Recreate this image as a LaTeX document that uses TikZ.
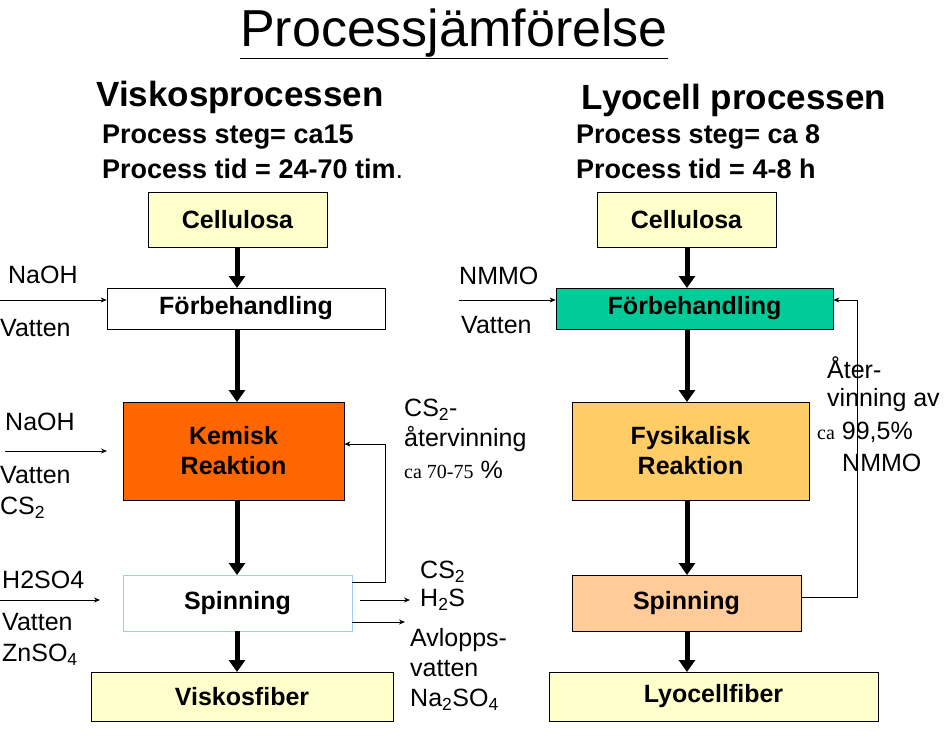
\documentclass[tikz,border=0pt]{standalone}
\usepackage{fontspec}
\setmainfont{Liberation Sans}
\newfontfamily\serifx{Liberation Serif}
\usetikzlibrary{arrows.meta}
\definecolor{ly}{HTML}{FFFFCC}
\definecolor{org}{HTML}{FF6600}
\definecolor{teal2}{HTML}{00CC99}
\definecolor{fys}{HTML}{FFCC66}
\definecolor{spn}{HTML}{FFCC99}
\definecolor{lb}{HTML}{99CCFF}
\begin{document}
\begin{tikzpicture}[x=1pt,y=-1pt,
 box/.style={draw=black,line width=0.8pt,font=\fontsize{25}{30}\selectfont\bfseries,align=center,inner sep=0pt},
 big/.style={line width=5pt,-{Triangle[length=12pt,width=16pt]}},
 thin/.style={line width=0.7pt,-{Stealth[length=6pt,width=5pt]}},
 lab/.style={font=\fontsize{25}{31}\selectfont,align=left,inner sep=0pt,anchor=west},
 hd/.style={font=\fontsize{35}{38}\selectfont\bfseries,inner sep=0pt},
 sub/.style={font=\fontsize{27}{32}\selectfont\bfseries,align=left,inner sep=0pt,anchor=west}]
\useasboundingbox[fill=white] (0,0) rectangle (950,737);
\node[font=\fontsize{52}{56}\selectfont,inner sep=0pt] (t) at (454,34) {\underline{Processjämförelse}};
\node[hd] (h1) at (240,97) {Viskosprocessen};
\node[hd] (h2) at (734,100) {Lyocell processen};
\node[sub] (s1) at (102,137) {Process steg= ca15};
\node[sub] (s1b) at (102,169) {Process tid = 24-70 tim\textmd{.}};
\node[sub] (s2) at (576,137) {Process steg= ca 8};
\node[sub] (s2b) at (576,169) {Process tid = 4-8 h};
% left boxes
\node[box,fill=ly,minimum width=179,minimum height=55] (c1) at (237.5,219.5) {Cellulosa};
\node[box,fill=white,minimum width=278,minimum height=41] (f1) at (246,308.5) {Förbehandling};
\node[box,fill=org,minimum width=221,minimum height=98] (k1) at (233.5,451) {Kemisk\\Reaktion};
\node[box,draw=lb,fill=white,minimum width=229,minimum height=56] (sp1) at (237.5,603) {Spinning};
\node[box,fill=ly,minimum width=302,minimum height=49] (v1) at (242,696.5) {Viskosfiber};
% right boxes
\node[box,fill=ly,minimum width=179,minimum height=55] (c2) at (686.5,219.5) {Cellulosa};
\node[box,fill=teal2,minimum width=277,minimum height=41] (f2) at (694.5,308.5) {Förbehandling};
\node[box,fill=fys,minimum width=237,minimum height=98] (k2) at (690.5,451) {Fysikalisk\\Reaktion};
\node[box,fill=spn,minimum width=229,minimum height=56] (sp2) at (686.5,603) {Spinning};
\node[box,fill=ly,minimum width=329,minimum height=49] (v2) at (713.5,696.5) {Lyocellfiber};
% thick arrows
\draw[big] (237,247) -- (237,288);
\draw[big] (237,329) -- (237,402);
\draw[big] (237,500) -- (237,575);
\draw[big] (237,631) -- (237,672);
\draw[big] (687,247) -- (687,288);
\draw[big] (687,329) -- (687,402);
\draw[big] (687,500) -- (687,575);
\draw[big] (687,631) -- (687,672);
% left inputs
\node[lab] (n1) at (8,275) {NaOH};
\node[lab] (w1) at (0,328) {Vatten};
\coordinate (a1) at (0,300);
\draw[thin] (a1) -- (f1.west |- a1);
\node[lab] (n2) at (5,422) {NaOH};
\node[lab] (w2) at (0,475) {Vatten};
\node[lab] (cs2a) at (0,508) {CS\textsubscript{2}};
\coordinate (a2) at (5,451); \coordinate (a2e) at (107,451);
\draw[thin] (a2) -- (a2e);
\node[lab] (h2s) at (2,580) {H2SO4};
\node[lab] (w3) at (2,622) {Vatten};
\node[lab] (zn) at (2,655) {ZnSO\textsubscript{4}};
\coordinate (a3) at (0,600); \coordinate (a3e) at (100,600);
\draw[thin] (a3) -- (a3e);
% CS2 recovery
\coordinate (r1) at (385,582); \coordinate (r2) at (385,444);
\draw[thin] (sp1.east |- r1) -- (r1) -- (r2) -- (k1.east |- r2);
\node[lab] (cs) at (404,410) {CS\textsubscript{2}-};
\node[lab] (cs') at (404,439) {återvinning};
\node[lab] (cs'') at (404,470) {{\serifx\fontsize{20}{24}\selectfont ca 70-75} \%};
\coordinate (o1) at (360,600); \coordinate (o1e) at (410,600);
\draw[thin] (o1) -- (o1e);
\coordinate (o2e) at (405,622);
\draw[thin] (sp1.east |- o2e) -- (o2e);
\node[lab] (out1) at (420,572) {CS\textsubscript{2}};
\node[lab] (out1b) at (420,600) {H\textsubscript{2}S};
\node[lab] (out2) at (410,640) {Avlopps-};
\node[lab] (out2b) at (410,669) {vatten};
\node[lab] (out2c) at (410,700) {Na\textsubscript{2}SO\textsubscript{4}};
% right inputs
\node[lab] (nm) at (459,276) {NMMO};
\node[lab] (w4) at (461,325) {Vatten};
\coordinate (a4) at (459,300);
\draw[thin] (a4) -- (f2.west |- a4);
\coordinate (r3) at (857,597); \coordinate (r4) at (857,300);
\draw[thin] (sp2.east |- r3) -- (r3) -- (r4) -- (f2.east |- r4);
\node[lab] (ate) at (827,368) {Åter-};
\node[lab] (ate2) at (827,400) {vinning av};
\node[lab] (pct) at (817,432) {{\serifx\fontsize{20}{24}\selectfont ca} 99,5\%};
\node[lab] (nm2) at (842,463) {NMMO};
\end{tikzpicture}
\end{document}
